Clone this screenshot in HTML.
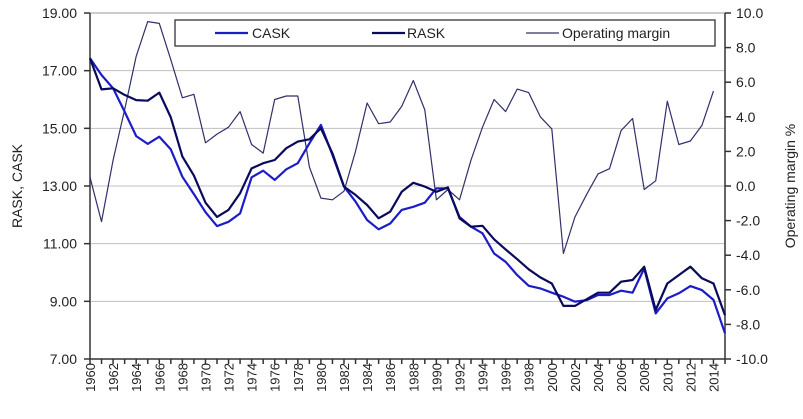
<!DOCTYPE html>
<html><head><meta charset="utf-8"><style>
body{margin:0;background:#fff;width:803px;height:419px;overflow:hidden}
svg{display:block;font-family:"Liberation Sans",Arial,sans-serif}
</style></head><body>
<svg id="chart" width="803" height="419" viewBox="0 0 803 419" xmlns="http://www.w3.org/2000/svg"></svg>
<script>
const years = [];
for (let y = 1960; y <= 2015; y++) years.push(y);
const cask = [17.43,16.85,16.39,15.58,14.73,14.46,14.71,14.27,13.32,12.72,12.09,11.61,11.76,12.05,13.3,13.53,13.21,13.58,13.79,14.48,15.12,14.07,12.98,12.46,11.82,11.5,11.7,12.17,12.28,12.42,12.92,12.92,11.93,11.59,11.36,10.66,10.37,9.91,9.54,9.45,9.3,9.16,8.99,9.04,9.22,9.22,9.37,9.3,10.14,8.58,9.1,9.28,9.53,9.39,9.05,7.89];
const rask = [17.43,16.35,16.39,16.16,15.98,15.96,16.24,15.38,14.02,13.36,12.42,11.93,12.17,12.75,13.61,13.79,13.9,14.31,14.54,14.62,15.0,14.13,12.98,12.69,12.34,11.88,12.11,12.8,13.11,12.98,12.8,12.95,11.88,11.59,11.62,11.15,10.8,10.46,10.11,9.83,9.62,8.84,8.84,9.07,9.3,9.3,9.68,9.74,10.2,8.7,9.62,9.91,10.2,9.8,9.62,8.52];
const margin = [0.5,-2.06,1.5,4.4,7.5,9.5,9.4,7.3,5.1,5.3,2.5,3.0,3.4,4.3,2.4,1.9,5.0,5.2,5.2,1.1,-0.7,-0.8,-0.3,2.0,4.8,3.6,3.7,4.6,6.1,4.4,-0.8,-0.2,-0.8,1.5,3.4,5.0,4.3,5.6,5.4,4.0,3.3,-3.9,-1.8,-0.5,0.7,1.0,3.2,3.9,-0.2,0.3,4.9,2.4,2.6,3.5,5.5];
const leftTicks = ["7.00","9.00","11.00","13.00","15.00","17.00","19.00"];
const rightTicks = ["-10.0","-8.0","-6.0","-4.0","-2.0","0.0","2.0","4.0","6.0","8.0","10.0"];

const X0=90, X1=725, YT=13, YB=359;
const xs = yr => X0 + (yr-1960)*(X1-X0)/55;
const yl = v => YB - (v-7)*(YB-YT)/12;
const yr = v => YB - (v+10)*(YB-YT)/20;
const svg = document.getElementById('chart');
const NS="http://www.w3.org/2000/svg";
function mk(tag, attrs, parent){const e=document.createElementNS(NS,tag);for(const k in attrs)e.setAttribute(k,attrs[k]);(parent||svg).appendChild(e);return e;}

// gridlines
leftTicks.forEach(t=>{const v=parseFloat(t);const y=yl(v);
  if(v>7&&v<19){const g=mk('line',{x1:X0,x2:X1,y1:y,y2:y,stroke:'#c0c0c0','stroke-width':1});
  
  }
  const tk=mk('line',{x1:X0-6,x2:X0,y1:y,y2:y,stroke:'#333','stroke-width':1.5});
  
  
  const tx=mk('text',{x:77,y:y+5,'text-anchor':'end','font-size':14,fill:'#222'});tx.textContent=t;
  
  
});
mk('line',{x1:X0,x2:X1,y1:YT,y2:YT,stroke:'#999','stroke-width':1});
rightTicks.forEach(t=>{const y=yr(parseFloat(t));
  const tk=mk('line',{x1:X1,x2:X1+6,y1:y,y2:y,stroke:'#333','stroke-width':1.5});
  
  
  const tx=mk('text',{x:736,y:y+5,'font-size':14,fill:'#222'});tx.textContent=t;
  
  
});
// axes
const la=mk('line',{x1:X0,x2:X0,y1:YT,y2:YB,stroke:'#333','stroke-width':1.5});


const ra=mk('line',{x1:X1,x2:X1,y1:YT,y2:YB,stroke:'#333','stroke-width':1.5});


const xa=mk('line',{x1:X0,x2:X1,y1:YB,y2:YB,stroke:'#333','stroke-width':1.5});


years.forEach(yv=>{const x=xs(yv);
  const tk=mk('line',{x1:x,x2:x,y1:YB,y2:YB+5,stroke:'#333','stroke-width':1.5});
  
  
  if(yv%2===0){const tx=mk('text',{x:0,y:0,'font-size':13,fill:'#222','text-anchor':'end',transform:`translate(${x+5},${YB+4}) rotate(-90)`});tx.textContent=yv;
  
  }
});
// series
function line(vals, yf, color, w, name){
  const p=vals.map((v,i)=>`${xs(years[i]).toFixed(1)},${yf(v).toFixed(1)}`).join(' ');
  const e=mk('polyline',{points:p,fill:'none',stroke:color,'stroke-width':w,'stroke-linejoin':'round'});
  
  
}
line(margin, yr, '#30306a', 1.2, 'operating-margin-line');
line(cask, yl, '#1c1cc8', 2.2, 'cask-line');
line(rask, yl, '#0a0a5c', 2.2, 'rask-line');

// legend
const lg=mk('g',{});


mk('rect',{x:175,y:20,width:540,height:26,fill:'#fff',stroke:'#333','stroke-width':1.3},lg);
[[215,252,'CASK','#1c1cc8',2.2],[372,407,'RASK','#0a0a5c',2.2],[526,562,'Operating margin','#30306a',1.2]].forEach(([lx,tx,lab,c,w])=>{
  const g=mk('g',{},lg);
  
  
  mk('line',{x1:lx,x2:lx+33,y1:33,y2:33,stroke:c,'stroke-width':w},g);
  const t=mk('text',{x:tx,y:38,'font-size':14,fill:'#222'},g);t.textContent=lab;
});
// axis titles
const lt=mk('text',{x:0,y:0,'font-size':14,fill:'#222','text-anchor':'middle',transform:'translate(22,186) rotate(-90)'});lt.textContent='RASK, CASK';


const rt=mk('text',{x:0,y:0,'font-size':14,fill:'#222','text-anchor':'middle',transform:'translate(795,186) rotate(-90)'});rt.textContent='Operating margin %';


</script>
</body></html>
